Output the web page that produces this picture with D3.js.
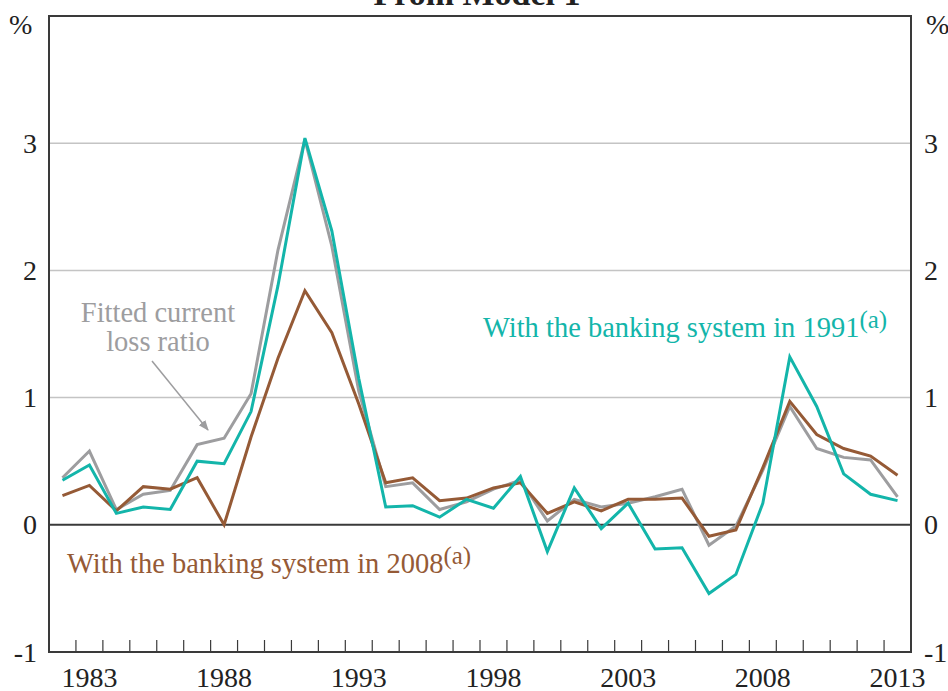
<!DOCTYPE html>
<html>
<head>
<meta charset="utf-8">
<script src="https://cdn.jsdelivr.net/npm/d3@7"></script>
<style>
  body { margin: 0; background: #fff; }
  svg text { font-family: "Liberation Serif", "Times New Roman", serif; }
</style>
</head>
<body>
<svg id="chart" width="948" height="691"></svg>
<script>
// annual observations, 1982 to 2013
const years = d3.range(1982, 2014);

const fitted = [0.37, 0.58, 0.12, 0.24, 0.27, 0.63, 0.68, 1.03, 2.16, 3.03, 2.19, 1.05,
  0.30, 0.33, 0.12, 0.18, 0.28, 0.35, 0.03, 0.20, 0.14, 0.17, 0.22, 0.28,
  -0.16, -0.01, 0.43, 0.93, 0.60, 0.53, 0.51, 0.22];

const banking1991 = [0.35, 0.47, 0.09, 0.14, 0.12, 0.50, 0.48, 0.89, 1.88, 3.04, 2.31, 1.15,
  0.14, 0.15, 0.06, 0.20, 0.13, 0.38, -0.21, 0.29, -0.03, 0.17, -0.19, -0.18,
  -0.54, -0.39, 0.17, 1.32, 0.93, 0.40, 0.24, 0.19];

const banking2008 = [0.23, 0.31, 0.11, 0.30, 0.28, 0.37, 0.00, 0.69, 1.31, 1.84, 1.51, 0.95,
  0.33, 0.37, 0.19, 0.21, 0.29, 0.33, 0.09, 0.18, 0.11, 0.20, 0.20, 0.21,
  -0.09, -0.04, 0.45, 0.97, 0.71, 0.60, 0.54, 0.39];

const yTicks = [-1, 0, 1, 2, 3];
const xLabels = [1983, 1988, 1993, 1998, 2003, 2008, 2013];

const colors = { fitted: "#9d9d9f", b1991: "#13b5aa", b2008: "#955a36" };

const svg = d3.select("#chart");
const plotL = 49, plotR = 911, plotT = 16, plotB = 652;

const x = d3.scaleLinear().domain([1982, 2014]).range([plotL, plotR]);
const y = d3.scaleLinear().domain([-1, 4]).range([plotB, plotT]);

// partly hidden panel title
svg.append("text")
  .attr("x", (plotL + plotR) / 2 - 3).attr("y", 5)
  .attr("text-anchor", "middle")
  .attr("font-size", 34).attr("font-weight", "bold")
  .attr("fill", "#222")
  .text("From Model 1");

// grid lines
svg.append("g").selectAll("line")
  .data(yTicks.filter(d => d > 0))
  .enter().append("line")
  .attr("x1", plotL).attr("x2", plotR)
  .attr("y1", d => y(d)).attr("y2", d => y(d))
  .attr("stroke", "#c4c4c4").attr("stroke-width", 1.5);

// zero line
svg.append("line")
  .attr("x1", plotL).attr("x2", plotR)
  .attr("y1", y(0)).attr("y2", y(0))
  .attr("stroke", "#3a3a3a").attr("stroke-width", 2);

// year ticks on the bottom axis
svg.append("g").selectAll("line")
  .data(d3.range(1983, 2014))
  .enter().append("line")
  .attr("x1", d => x(d)).attr("x2", d => x(d))
  .attr("y1", plotB).attr("y2", plotB - 12)
  .attr("stroke", "#3a3a3a").attr("stroke-width", 1.2);

// frame
svg.append("rect")
  .attr("x", plotL).attr("y", plotT)
  .attr("width", plotR - plotL).attr("height", plotB - plotT)
  .attr("fill", "none").attr("stroke", "#3a3a3a").attr("stroke-width", 2);

// y labels on both sides
const yl = svg.append("g").attr("font-size", 28).attr("fill", "#222");
yl.selectAll(".l").data(yTicks).enter().append("text")
  .attr("x", 37).attr("y", d => y(d)).attr("dy", "0.34em")
  .attr("text-anchor", "end")
  .text(d => d);
yl.selectAll(".r").data(yTicks).enter().append("text")
  .attr("x", 924).attr("y", d => y(d)).attr("dy", "0.34em")
  .text(d => d);
yl.append("text").attr("x", 9).attr("y", 34).text("%");
yl.append("text").attr("x", 926).attr("y", 34).text("%");

// x labels centred on the year
svg.append("g").attr("font-size", 28).attr("fill", "#222")
  .selectAll("text").data(xLabels).enter().append("text")
  .attr("x", d => x(d + 0.5)).attr("y", 687)
  .attr("text-anchor", "middle")
  .text(d => d);

// series
const line = d3.line().x((d, i) => x(years[i] + 0.5)).y(d => y(d));
[[fitted, colors.fitted], [banking2008, colors.b2008], [banking1991, colors.b1991]].forEach(([vals, c]) => {
  svg.append("path")
    .attr("d", line(vals))
    .attr("fill", "none")
    .attr("stroke", c)
    .attr("stroke-width", 3)
    .attr("stroke-linejoin", "miter");
});

// annotations
const fittedLbl = svg.append("text")
  .attr("font-size", 28.5).attr("fill", colors.fitted)
  .attr("text-anchor", "middle");
fittedLbl.append("tspan").attr("x", 158).attr("y", 322).text("Fitted current");
fittedLbl.append("tspan").attr("x", 158).attr("y", 351).text("loss ratio");

svg.append("defs").append("marker")
  .attr("id", "arrow").attr("viewBox", "0 0 10 10")
  .attr("refX", 9).attr("refY", 5)
  .attr("markerWidth", 7).attr("markerHeight", 7)
  .attr("orient", "auto")
  .append("path").attr("d", "M0,1 L10,5 L0,9 Z").attr("fill", colors.fitted);

svg.append("line")
  .attr("x1", 152).attr("y1", 361).attr("x2", 208).attr("y2", 430)
  .attr("stroke", colors.fitted).attr("stroke-width", 1.5)
  .attr("marker-end", "url(#arrow)");

function legendText(tx, ty, label, color) {
  const t = svg.append("text").attr("x", tx).attr("y", ty)
    .attr("font-size", 28.5).attr("fill", color);
  t.append("tspan").text(label);
  t.append("tspan").attr("font-size", 25).attr("dy", -9).text("(a)");
}
legendText(483, 337, "With the banking system in 1991", colors.b1991);
legendText(67, 573, "With the banking system in 2008", colors.b2008);
</script>
</body>
</html>
